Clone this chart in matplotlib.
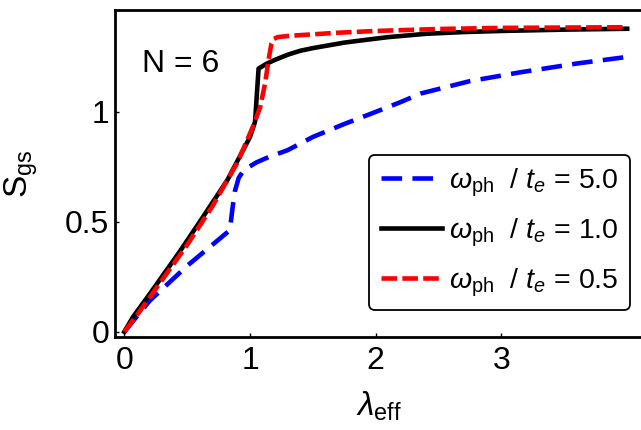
import numpy as np
import matplotlib
matplotlib.use("Agg")
import matplotlib.pyplot as plt

plt.rcParams['font.family'] = ['Liberation Sans', 'DejaVu Sans']
plt.rcParams['mathtext.fontset'] = 'custom'
plt.rcParams['mathtext.rm'] = 'Liberation Sans'
plt.rcParams['mathtext.it'] = 'Liberation Sans:italic'

# omega_ph / t_e = 5.0
lam_blue = [0, 0.2, 0.5, 0.84, 0.86, 0.88, 0.91, 0.95, 1.05, 1.15, 1.3, 1.5, 1.75, 2.0, 2.2, 2.36, 2.75, 3.15, 3.6, 4.0]
s_blue = [0, 0.14, 0.3, 0.462, 0.56, 0.64, 0.7, 0.735, 0.77, 0.795, 0.826, 0.886, 0.945, 1.0, 1.045, 1.084, 1.14, 1.18, 1.22, 1.25]

# omega_ph / t_e = 1.0
lam_black = [0, 0.07, 0.2, 0.44, 0.6, 0.82, 1.0, 1.04, 1.068, 1.135, 1.2, 1.3, 1.4, 1.5, 1.6, 1.75, 1.9, 2.1,
             2.4, 2.7, 3.0, 3.5, 4.0]
s_black = [0, 0.068, 0.17, 0.364, 0.5, 0.69, 0.886, 0.955, 1.197, 1.22, 1.237, 1.26, 1.278, 1.29, 1.30, 1.315,
           1.326, 1.34, 1.355, 1.363, 1.368, 1.374, 1.378]

# omega_ph / t_e = 0.5
lam_red = [0, 0.1, 0.3, 0.5, 0.7, 0.9, 1.028, 1.08, 1.12, 1.147, 1.17, 1.19, 1.22, 1.3, 1.4, 1.7, 2.0, 2.5, 3.0, 4.0]
s_red = [0, 0.075, 0.235, 0.395, 0.57, 0.77, 0.94, 1.02, 1.13, 1.235, 1.31, 1.332, 1.34, 1.345, 1.349, 1.36,
         1.368, 1.377, 1.382, 1.385]

labels = [r'$\omega_{\rm ph}$  / $t_e$ = 5.0',
          r'$\omega_{\rm ph}$  / $t_e$ = 1.0',
          r'$\omega_{\rm ph}$  / $t_e$ = 0.5']

fig = plt.figure(figsize=(6.41, 4.30), dpi=100)
ax = fig.add_axes([0.1794, 0.2156, 0.8206 + 0.002, 0.761])

lw = 3.3
ax.plot(lam_blue, s_blue, color='#0000ff', lw=lw, dashes=(4.5, 2.25), label=labels[0])
ax.plot(lam_black, s_black, color='black', lw=lw, label=labels[1])
ax.plot(lam_red, s_red, color='#ff0000', lw=lw, dashes=(3.4, 1.15), label=labels[2])

ax.set_xlim(-0.074, 4.12)
ax.set_ylim(-0.025, 1.463)
ax.set_xticks([0, 1, 2, 3])
ax.set_xticklabels(['0', '1', '2', '3'])
ax.set_yticks([0, 0.5, 1])
ax.set_yticklabels(['0', '0.5', '1'])
ax.tick_params(direction='in', length=3, width=1, labelsize=23, pad=4)
ax.tick_params(axis='x', pad=6)
for sp in ['left', 'bottom', 'top']:
    ax.spines[sp].set_linewidth(2.0)
ax.spines['right'].set_visible(False)

ax.set_xlabel(r'$\lambda_{\rm eff}$', fontsize=24, labelpad=10)
ax.set_ylabel(r'$\mathrm{S}_{\mathrm{gs}}$', fontsize=24, labelpad=18)

ax.text(0.14, 1.18, 'N = 6', fontsize=23, ha='left', va='baseline')

leg = ax.legend(loc='lower right', bbox_to_anchor=(630 / 641, 1 - 310 / 430),
                bbox_transform=fig.transFigure, borderaxespad=0,
                fontsize=20.5, frameon=True, fancybox=True, handlelength=2.15,
                handletextpad=0.25, labelspacing=0.62, borderpad=0.4)
leg.get_frame().set_edgecolor('black')
leg.get_frame().set_linewidth(1.3)
leg.get_frame().set_alpha(1)

fig.savefig('out.png', dpi=100)
